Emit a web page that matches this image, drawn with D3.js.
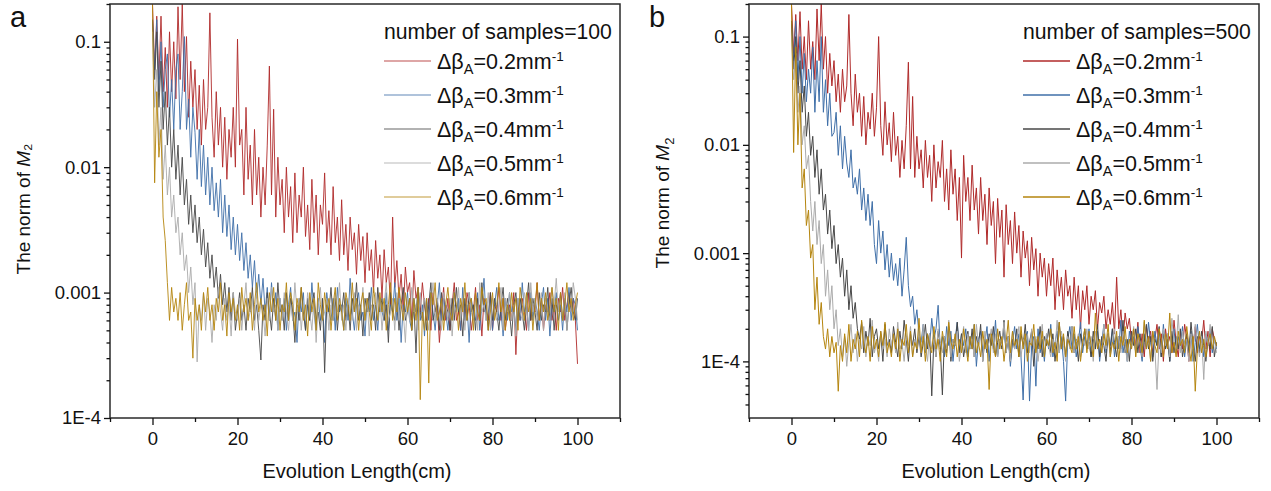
<!DOCTYPE html>
<html>
<head>
<meta charset="utf-8">
<script src="https://cdn.jsdelivr.net/npm/d3@7"></script>
<style>
  body { margin: 0; background: #fff; }
  text { font-family: Arial, "Liberation Sans", sans-serif; fill: #111; }
</style>
</head>
<body>
<svg id="chart" width="1271" height="491"></svg>
<script>
// sampling grid along the fiber, cm (every 0.5 cm from 0 to 100)
const lengthCm = d3.range(0, 100.25, 0.5)

const betaLabels = ["0.2", "0.3", "0.4", "0.5", "0.6"]
const lineColors = ["#b02a2a", "#3f6fa8", "#474747", "#ababab", "#b5850e"]
const xMajorTicks = [0, 20, 40, 60, 80, 100]
const xMinorTicks = [-10, 10, 30, 50, 70, 90, 110]
const yMajorTicks = [1e-4, 1e-3, 1e-2, 1e-1]
const yTickLabels = ["1E-4", "0.001", "0.01", "0.1"]

// ---- number of samples = 100 ----
const red100 = [
  0.2,0.06,0.16,0.05,0.16,0.04,0.09,0.03,0.12,0.04,
  0.1,0.035,0.19,0.05,0.2,0.04,0.11,0.025,0.07,0.03,
  0.06,0.02,0.045,0.015,0.05,0.02,0.03,0.17,0.025,0.012,
  0.04,0.015,0.03,0.01,0.025,0.008,0.02,0.012,0.03,0.01,
  0.105,0.015,0.02,0.006,0.03,0.008,0.015,0.005,0.02,0.006,
  0.012,0.004,0.01,0.005,0.015,0.064,0.006,0.029,0.004,0.012,
  0.005,0.008,0.003,0.01,0.004,0.007,0.0025,0.009,0.003,0.006,
  0.004,0.01,0.0028,0.005,0.0022,0.008,0.003,0.006,0.002,0.005,
  0.0035,0.009,0.0025,0.0045,0.002,0.007,0.0025,0.004,0.0018,0.0055,
  0.002,0.0035,0.0015,0.004,0.0022,0.003,0.0014,0.0035,0.0018,0.0028,
  0.0012,0.003,0.0015,0.0022,0.001,0.0026,0.0013,0.002,0.0009,0.0022,
  0.0012,0.0016,0.0008,0.004,0.0011,0.0018,0.0009,0.0014,0.0007,0.0016,
  0.001,0.0012,0.0006,0.0015,0.0009,0.0011,0.0007,0.0012,0.0008,
  6e-4,9e-4,5e-4,10e-4,7e-4,8e-4,4e-4,7e-4,11e-4,6e-4,
  9e-4,5e-4,8e-4,12e-4,6e-4,7e-4,5e-4,9e-4,6e-4,10e-4,
  8e-4,5e-4,7e-4,11e-4,6e-4,8e-4,4.5e-4,9e-4,7e-4,6e-4,
  10e-4,5e-4,8e-4,7e-4,11e-4,6e-4,9e-4,5e-4,7e-4,8e-4,
  6e-4,10e-4,3.2e-4,8e-4,6e-4,9e-4,7e-4,5e-4,10e-4,6e-4,
  8e-4,7e-4,12e-4,6e-4,9e-4,5e-4,8e-4,7e-4,10e-4,6e-4,
  8e-4,5e-4,9e-4,7e-4,11e-4,6e-4,8e-4,10e-4,7e-4,9e-4,
  6e-4,2.7e-4
]
const blue100 = [
  0.15,0.06,0.15,0.04,0.1,0.03,0.06,0.08,0.025,0.05,
  0.02,0.06,0.08,0.02,0.04,0.11,0.02,0.035,0.012,0.03,
  0.019,0.008,0.02,0.007,0.015,0.006,0.012,0.005,0.01,0.0045,
  0.0075,0.004,0.008,0.003,0.006,0.0028,0.005,0.0022,0.004,0.002,
  0.0035,0.0018,0.003,0.0015,0.0025,0.0013,0.002,0.0011,0.0018,0.0009,
  0.0014,0.0008,0.0013,0.0007,0.0011,0.0006,0.0012,0.0007,0.001,0.0005,
  0.0009,
  6e-4,9e-4,5e-4,8e-4,11e-4,6e-4,7e-4,4e-4,9e-4,7e-4,
  10e-4,5e-4,8e-4,6e-4,12e-4,7e-4,5e-4,9e-4,6e-4,8e-4,
  4e-4,10e-4,7e-4,6e-4,9e-4,5e-4,11e-4,7e-4,8e-4,5e-4,
  9e-4,6e-4,13e-4,7e-4,5e-4,8e-4,10e-4,6e-4,7e-4,4.5e-4,
  9e-4,7e-4,11e-4,6e-4,8e-4,5e-4,9e-4,7e-4,6e-4,10e-4,
  5e-4,8e-4,7e-4,12e-4,6e-4,9e-4,4e-4,8e-4,7e-4,10e-4,
  6e-4,5e-4,9e-4,7e-4,11e-4,6e-4,8e-4,4.5e-4,9e-4,6e-4,
  10e-4,7e-4,5e-4,8e-4,12e-4,6e-4,9e-4,7e-4,5e-4,8e-4,
  6e-4,10e-4,7e-4,9e-4,5e-4,11e-4,6e-4,8e-4,4e-4,9e-4,
  7e-4,6e-4,10e-4,5e-4,8e-4,13e-4,6e-4,7e-4,9e-4,5e-4,
  8e-4,11e-4,6e-4,7e-4,4.5e-4,9e-4,6e-4,10e-4,7e-4,8e-4,
  5e-4,9e-4,6e-4,12e-4,7e-4,8e-4,5e-4,10e-4,6e-4,9e-4,
  7e-4,5e-4,8e-4,11e-4,6e-4,9e-4,4.5e-4,8e-4,7e-4,10e-4,
  6e-4,8e-4,5e-4,9e-4,7e-4,11e-4,6e-4,9e-4,8e-4,5e-4
]
const dark100 = [
  0.15,0.05,0.12,0.03,0.07,0.02,0.04,0.015,0.03,0.01,
  0.02,0.008,0.015,0.006,0.012,0.005,0.008,0.0035,0.006,0.003,
  0.005,0.0025,0.004,0.002,0.0032,0.0016,0.0025,0.0013,0.002,0.0011,
  0.0016,0.0009,0.0014,0.0008,0.0012,0.0007,0.0011,0.0006,0.001,0.0005,
  7e-4,10e-4,6e-4,8e-4,5e-4,9e-4,7e-4,11e-4,6e-4,8e-4,
  5e-4,2.9e-4,8e-4,6e-4,10e-4,7e-4,5e-4,9e-4,6e-4,12e-4,
  7e-4,8e-4,5e-4,10e-4,6e-4,9e-4,7e-4,4e-4,8e-4,6e-4,
  11e-4,7e-4,5e-4,9e-4,6e-4,8e-4,10e-4,6e-4,7e-4,5e-4,
  9e-4,2.3e-4,8e-4,7e-4,11e-4,6e-4,9e-4,5e-4,8e-4,7e-4,
  10e-4,6e-4,8e-4,5e-4,9e-4,7e-4,12e-4,6e-4,8e-4,4.5e-4,
  9e-4,7e-4,10e-4,6e-4,8e-4,5e-4,11e-4,7e-4,9e-4,6e-4,
  8e-4,4e-4,10e-4,7e-4,6e-4,9e-4,5e-4,8e-4,11e-4,6e-4,
  7e-4,9e-4,5e-4,8e-4,3.3e-4,10e-4,7e-4,6e-4,9e-4,5e-4,
  8e-4,12e-4,6e-4,7e-4,9e-4,5e-4,10e-4,6e-4,8e-4,7e-4,
  5e-4,9e-4,6e-4,11e-4,7e-4,8e-4,4.5e-4,9e-4,6e-4,10e-4,
  7e-4,8e-4,5e-4,9e-4,6e-4,12e-4,7e-4,8e-4,5e-4,10e-4,
  6e-4,9e-4,7e-4,5e-4,8e-4,11e-4,6e-4,9e-4,7e-4,4.5e-4,
  8e-4,10e-4,6e-4,9e-4,7e-4,5e-4,8e-4,12e-4,6e-4,9e-4,
  7e-4,5e-4,10e-4,6e-4,8e-4,7e-4,11e-4,6e-4,9e-4,5e-4,
  8e-4,7e-4,10e-4,6e-4,9e-4,5e-4,8e-4,11e-4,7e-4,6e-4,
  9e-4
]
const light100 = [
  0.12,0.03,0.06,0.015,0.03,0.008,0.015,0.006,0.01,0.004,
  0.006,0.003,0.004,0.002,0.003,0.0015,0.002,0.001,0.0016,0.0008,
  0.0012,0.00028,
  8e-4,6e-4,10e-4,5e-4,9e-4,7e-4,4e-4,8e-4,6e-4,11e-4,
  7e-4,5e-4,9e-4,6e-4,8e-4,4.5e-4,10e-4,7e-4,6e-4,9e-4,
  5e-4,8e-4,12e-4,6e-4,7e-4,9e-4,5e-4,10e-4,6e-4,8e-4,
  7e-4,4.5e-4,9e-4,6e-4,11e-4,7e-4,8e-4,5e-4,9e-4,6e-4,
  10e-4,7e-4,5e-4,8e-4,6e-4,12e-4,7e-4,9e-4,5e-4,8e-4,
  6e-4,10e-4,7e-4,5e-4,9e-4,4e-4,8e-4,11e-4,6e-4,7e-4,
  9e-4,5e-4,8e-4,6e-4,10e-4,7e-4,12e-4,6e-4,8e-4,5e-4,
  9e-4,7e-4,6e-4,10e-4,5e-4,8e-4,7e-4,11e-4,6e-4,9e-4,
  4.5e-4,8e-4,7e-4,10e-4,6e-4,9e-4,5e-4,8e-4,12e-4,6e-4,
  7e-4,9e-4,5e-4,10e-4,6e-4,8e-4,7e-4,4e-4,9e-4,6e-4,
  11e-4,7e-4,8e-4,5e-4,10e-4,6e-4,9e-4,7e-4,5e-4,8e-4,
  12e-4,6e-4,9e-4,7e-4,5e-4,10e-4,8e-4,6e-4,9e-4,4.5e-4,
  8e-4,7e-4,11e-4,6e-4,9e-4,5e-4,8e-4,10e-4,7e-4,6e-4,
  9e-4,5e-4,12e-4,7e-4,8e-4,6e-4,10e-4,5e-4,9e-4,7e-4,
  6e-4,8e-4,11e-4,5e-4,9e-4,7e-4,10e-4,6e-4,8e-4,4.5e-4,
  9e-4,7e-4,6e-4,10e-4,8e-4,5e-4,12e-4,7e-4,9e-4,6e-4,
  8e-4,10e-4,5e-4,9e-4,7e-4,6e-4,11e-4,8e-4,13e-4,7e-4,
  9e-4,6e-4,10e-4,5e-4,8e-4,7e-4,12e-4,9e-4,6e-4
]
const gold100 = [
  0.2,0.0075,0.04,0.012,0.02,0.004,0.0026,0.0012,0.0006,
  11e-4,7e-4,9e-4,6e-4,10e-4,5e-4,8e-4,12e-4,6e-4,7e-4,
  3e-4,9e-4,6e-4,8e-4,5e-4,10e-4,7e-4,11e-4,6e-4,8e-4,
  5e-4,9e-4,7e-4,12e-4,6e-4,8e-4,4.5e-4,10e-4,7e-4,9e-4,
  6e-4,8e-4,5e-4,11e-4,7e-4,9e-4,6e-4,10e-4,5e-4,8e-4,
  12e-4,7e-4,9e-4,6e-4,8e-4,4.5e-4,10e-4,7e-4,11e-4,6e-4,
  9e-4,5e-4,8e-4,7e-4,12e-4,6e-4,10e-4,8e-4,5e-4,9e-4,
  7e-4,11e-4,6e-4,8e-4,4.5e-4,10e-4,7e-4,9e-4,5e-4,12e-4,
  8e-4,6e-4,10e-4,7e-4,9e-4,5e-4,8e-4,11e-4,6e-4,9e-4,
  7e-4,5e-4,10e-4,8e-4,6e-4,12e-4,7e-4,9e-4,5e-4,8e-4,
  10e-4,6e-4,9e-4,7e-4,5e-4,11e-4,8e-4,6e-4,10e-4,7e-4,
  9e-4,5e-4,8e-4,12e-4,6e-4,9e-4,7e-4,11e-4,8e-4,6e-4,
  10e-4,7e-4,9e-4,5e-4,9e-4,6e-4,11e-4,1.4e-4,7e-4,5e-4,
  9e-4,1.9e-4,10e-4,8e-4,12e-4,6e-4,7e-4,9e-4,5e-4,8e-4,
  11e-4,7e-4,6e-4,10e-4,8e-4,5e-4,9e-4,7e-4,12e-4,6e-4,
  8e-4,9e-4,5e-4,10e-4,7e-4,6e-4,11e-4,8e-4,9e-4,5e-4,
  7e-4,10e-4,6e-4,8e-4,12e-4,7e-4,9e-4,5e-4,8e-4,6e-4,
  10e-4,7e-4,9e-4,5e-4,11e-4,8e-4,6e-4,10e-4,7e-4,9e-4,
  5e-4,8e-4,12e-4,6e-4,9e-4,7e-4,10e-4,6e-4,8e-4,11e-4,
  7e-4,9e-4,5e-4,10e-4,6e-4,8e-4,12e-4,7e-4,9e-4,6e-4,
  8e-4,10e-4
]

// ---- number of samples = 500 ----
const red500 = [
  0.2,0.07,0.16,0.06,0.17,0.05,0.1,0.04,0.14,0.05,
  0.09,0.04,0.18,0.06,0.2,0.05,0.1,0.03,0.07,0.035,
  0.06,0.025,0.045,0.02,0.05,0.025,0.035,0.16,0.03,0.015,
  0.045,0.02,0.03,0.012,0.028,0.01,0.02,0.014,0.03,0.012,
  0.022,0.1,0.015,0.008,0.025,0.01,0.016,0.007,0.02,0.008,
  0.012,0.005,0.011,0.006,0.015,0.058,0.006,0.028,0.005,0.012,
  0.006,0.009,0.004,0.011,0.005,0.008,0.003,0.01,0.004,0.007,
  0.005,0.011,0.003,0.006,0.0025,0.009,0.0035,0.006,0.002,0.005,
  0.0009,0.008,0.003,0.005,0.002,0.0065,0.0025,0.004,0.0015,0.005,
  0.002,0.0035,0.0012,0.004,0.0018,0.003,0.0008,0.0032,0.0014,0.0025,
  0.0006,0.0028,0.0012,0.002,0.0008,0.0024,0.001,0.0018,0.0006,0.0016,
  0.0009,0.0013,0.0005,0.0014,0.0007,0.0011,0.0004,0.001,0.0006,0.0009,
  0.0004,0.0008,0.0005,0.0009,0.0003,0.0007,0.0004,0.0006,0.0003,0.0007,
  0.0004,0.0005,0.00025,0.0006,0.0003,0.0005,0.0002,0.00045,0.0003,0.0005,
  0.00022,0.0004,0.0003,0.00045,0.0002,0.00035,0.00028,0.0004,0.0002,0.0003,
  0.00022,0.00035,0.00018,0.0006,0.0002,0.0003,0.00016,0.00028,0.0002,0.00025,
  0.00015,
  2e-4,1.4e-4,2.3e-4,1.2e-4,1.8e-4,1.1e-4,2.1e-4,1.5e-4,1.9e-4,1.2e-4,
  1.6e-4,2.2e-4,1.3e-4,1.8e-4,1.0e-4,2.0e-4,1.4e-4,1.7e-4,1.2e-4,2.4e-4,
  1.5e-4,1.1e-4,1.9e-4,1.3e-4,2.2e-4,1.6e-4,1.0e-4,1.8e-4,1.4e-4,2.1e-4,
  1.2e-4,1.7e-4,1.5e-4,2.4e-4,1.3e-4,1.9e-4,1.1e-4,2.0e-4,1.6e-4,1.4e-4
]
const blue500 = [
  0.13,0.06,0.14,0.04,0.1,0.03,0.07,0.025,0.05,0.03,
  0.08,0.02,0.06,0.025,0.1,0.02,0.04,0.015,0.03,0.012,
  0.013,0.02,0.008,0.015,0.006,0.012,0.0068,0.005,0.009,0.004,
  0.005,0.0035,0.006,0.0025,0.004,0.002,0.0035,0.0018,0.003,0.0012,
  0.0008,0.002,0.001,0.0016,0.0007,0.0012,0.0006,0.001,0.00056,0.0008,
  0.0005,0.0009,0.0004,0.0007,0.0014,0.0005,0.00032,0.0004,0.00022,0.0003,
  0.00018,
  1.5e-4,2.2e-4,1.2e-4,1.8e-4,1.4e-4,2.5e-4,1.6e-4,2.0e-4,3.3e-4,1.3e-4,
  1.7e-4,1.1e-4,2.1e-4,1.4e-4,1.9e-4,1.0e-4,1.6e-4,2.3e-4,1.2e-4,1.8e-4,
  1.4e-4,2.0e-4,1.1e-4,1.7e-4,1.3e-4,2.2e-4,0.9e-4,1.6e-4,1.9e-4,1.2e-4,
  1.5e-4,2.1e-4,1.0e-4,1.8e-4,1.3e-4,2.4e-4,1.1e-4,1.6e-4,1.4e-4,2.0e-4,
  1.2e-4,1.7e-4,0.9e-4,1.5e-4,2.1e-4,1.3e-4,1.8e-4,1.1e-4,0.44e-4,1.6e-4,
  1.9e-4,0.43e-4,1.4e-4,1.7e-4,0.59e-4,2.0e-4,1.2e-4,1.6e-4,1.0e-4,1.8e-4,
  1.3e-4,2.2e-4,1.1e-4,1.5e-4,1.9e-4,1.2e-4,1.7e-4,1.0e-4,0.43e-4,1.6e-4,
  2.1e-4,1.3e-4,1.8e-4,1.1e-4,1.5e-4,2.3e-4,1.2e-4,1.7e-4,1.4e-4,2.0e-4,
  1.1e-4,1.6e-4,1.3e-4,1.9e-4,1.0e-4,1.5e-4,2.2e-4,1.2e-4,1.8e-4,1.4e-4,
  2.0e-4,1.1e-4,1.7e-4,1.3e-4,2.4e-4,1.2e-4,1.6e-4,1.0e-4,1.9e-4,1.4e-4,
  1.7e-4,1.2e-4,2.1e-4,1.4e-4,1.0e-4,1.8e-4,1.3e-4,2.3e-4,1.5e-4,1.1e-4,
  1.9e-4,1.4e-4,1.6e-4,1.1e-4,2.2e-4,1.3e-4,1.8e-4,1.0e-4,1.5e-4,2.0e-4,
  1.2e-4,1.7e-4,1.4e-4,2.1e-4,1.1e-4,1.6e-4,1.3e-4,1.9e-4,1.0e-4,1.5e-4,
  2.2e-4,1.3e-4,1.7e-4,1.1e-4,1.8e-4,1.4e-4,2.0e-4,1.2e-4,1.6e-4,1.3e-4
]
const dark500 = [
  0.14,0.05,0.1,0.03,0.06,0.02,0.035,0.012,0.02,0.008,
  0.012,0.005,0.009,0.0035,0.006,0.0025,0.0035,0.0015,0.0025,0.0011,
  0.0018,0.0008,0.0012,0.0006,0.0009,0.0004,0.0007,0.0003,0.0005,0.00025,
  0.00035,0.0002,
  1.6e-4,2.3e-4,1.2e-4,1.9e-4,1.4e-4,2.5e-4,1.1e-4,1.7e-4,2.0e-4,1.3e-4,
  1.8e-4,1.0e-4,2.2e-4,1.4e-4,1.6e-4,1.2e-4,2.1e-4,1.5e-4,1.1e-4,1.9e-4,
  1.3e-4,2.4e-4,1.6e-4,1.0e-4,1.8e-4,1.4e-4,2.0e-4,1.2e-4,1.7e-4,1.1e-4,
  1.5e-4,2.2e-4,1.3e-4,1.8e-4,0.48e-4,1.6e-4,1.1e-4,1.9e-4,1.4e-4,0.49e-4,
  1.7e-4,1.2e-4,2.1e-4,1.0e-4,1.6e-4,1.4e-4,2.3e-4,1.2e-4,1.8e-4,1.1e-4,
  1.5e-4,1.9e-4,1.3e-4,2.0e-4,1.1e-4,1.7e-4,1.4e-4,2.2e-4,1.0e-4,1.6e-4,
  1.2e-4,1.8e-4,1.4e-4,2.1e-4,1.1e-4,1.5e-4,1.9e-4,1.3e-4,2.4e-4,1.2e-4,
  1.7e-4,1.0e-4,1.6e-4,1.3e-4,2.0e-4,1.1e-4,1.8e-4,1.4e-4,2.2e-4,1.2e-4,
  1.5e-4,1.9e-4,0.9e-4,1.6e-4,1.3e-4,2.1e-4,1.1e-4,1.7e-4,1.4e-4,2.0e-4,
  1.2e-4,1.8e-4,1.0e-4,1.5e-4,2.3e-4,1.3e-4,1.7e-4,1.1e-4,1.9e-4,1.4e-4,
  2.1e-4,1.2e-4,1.6e-4,1.0e-4,1.8e-4,1.4e-4,2.0e-4,1.3e-4,1.5e-4,1.1e-4,
  1.9e-4,1.3e-4,2.2e-4,1.1e-4,1.7e-4,1.4e-4,1.0e-4,1.8e-4,1.2e-4,2.0e-4,
  1.5e-4,1.1e-4,1.7e-4,1.3e-4,2.4e-4,1.2e-4,1.6e-4,1.0e-4,1.9e-4,1.4e-4,
  2.0e-4,1.2e-4,1.8e-4,1.1e-4,1.5e-4,2.2e-4,1.3e-4,1.7e-4,1.0e-4,1.6e-4,
  1.4e-4,2.1e-4,1.1e-4,1.8e-4,1.3e-4,1.6e-4,1.0e-4,1.9e-4,1.2e-4,1.7e-4,
  1.3e-4,2.0e-4,1.1e-4,1.5e-4,1.8e-4,1.2e-4,2.3e-4,1.4e-4,1.0e-4,1.7e-4,
  1.2e-4,1.9e-4,1.4e-4,1.0e-4,1.6e-4,1.3e-4,2.1e-4,1.1e-4,1.5e-4
]
const light500 = [
  0.1,0.04,0.07,0.02,0.035,0.01,0.015,0.006,0.008,0.003,
  0.0016,0.003,0.0012,0.002,0.0008,0.0012,0.0004,0.0007,0.0003,0.0005,
  0.0002,0.0003,
  1.4e-4,2.0e-4,1.1e-4,1.7e-4,0.9e-4,1.5e-4,2.2e-4,1.2e-4,1.8e-4,1.0e-4,
  1.6e-4,1.3e-4,2.1e-4,1.1e-4,1.7e-4,1.4e-4,2.4e-4,1.2e-4,1.5e-4,1.0e-4,
  1.9e-4,1.3e-4,1.6e-4,1.1e-4,2.0e-4,1.4e-4,1.8e-4,1.2e-4,2.3e-4,1.3e-4,
  1.5e-4,1.0e-4,1.7e-4,1.4e-4,2.1e-4,1.1e-4,1.6e-4,1.3e-4,1.9e-4,1.2e-4,
  2.2e-4,1.4e-4,1.0e-4,1.8e-4,1.3e-4,1.6e-4,1.1e-4,2.0e-4,1.5e-4,1.2e-4,
  1.7e-4,1.3e-4,2.4e-4,1.1e-4,1.6e-4,1.4e-4,1.9e-4,1.0e-4,1.5e-4,2.1e-4,
  1.2e-4,1.8e-4,1.3e-4,1.6e-4,1.1e-4,2.2e-4,1.4e-4,1.7e-4,1.0e-4,1.9e-4,
  1.3e-4,1.5e-4,2.0e-4,1.2e-4,1.8e-4,1.1e-4,1.6e-4,1.4e-4,2.3e-4,1.2e-4,
  1.7e-4,1.0e-4,1.9e-4,1.3e-4,1.5e-4,2.1e-4,1.1e-4,1.6e-4,1.4e-4,1.8e-4,
  1.2e-4,2.0e-4,1.3e-4,1.7e-4,1.0e-4,1.5e-4,2.2e-4,1.2e-4,1.8e-4,1.4e-4,
  1.1e-4,1.6e-4,1.3e-4,2.4e-4,1.2e-4,1.9e-4,1.4e-4,1.0e-4,1.7e-4,1.3e-4,
  2.1e-4,1.2e-4,1.5e-4,1.8e-4,1.1e-4,1.6e-4,1.4e-4,2.0e-4,1.3e-4,1.7e-4,
  1.0e-4,1.9e-4,1.4e-4,1.6e-4,1.2e-4,2.2e-4,1.3e-4,1.8e-4,1.1e-4,1.5e-4,
  2.0e-4,1.3e-4,1.7e-4,1.2e-4,1.9e-4,1.4e-4,1.0e-4,1.6e-4,1.3e-4,2.1e-4,
  1.2e-4,1.8e-4,1.5e-4,1.1e-4,2.3e-4,1.4e-4,1.7e-4,1.0e-4,1.9e-4,1.3e-4,
  0.55e-4,1.6e-4,1.2e-4,2.0e-4,1.4e-4,1.8e-4,1.1e-4,2.5e-4,1.5e-4,1.3e-4,
  2.7e-4,1.2e-4,1.9e-4,1.4e-4,1.6e-4,1.0e-4,1.8e-4,1.3e-4,2.2e-4,1.5e-4,
  1.1e-4,1.7e-4,0.68e-4,1.9e-4,1.4e-4,2.2e-4,1.3e-4,1.6e-4,1.2e-4
]
const gold500 = [
  0.2,0.0085,0.08,0.01,0.03,0.004,0.006,0.0018,0.0025,0.0009,
  0.0012,0.0003,0.0006,0.00022,0.00035,0.00017,
  1.3e-4,2.0e-4,1.1e-4,1.7e-4,1.2e-4,1.5e-4,0.53e-4,1.4e-4,1.0e-4,1.8e-4,
  1.2e-4,2.2e-4,1.0e-4,1.6e-4,1.3e-4,1.9e-4,1.1e-4,2.4e-4,1.4e-4,1.2e-4,
  1.7e-4,1.0e-4,2.1e-4,1.3e-4,1.6e-4,1.1e-4,1.9e-4,1.4e-4,2.3e-4,1.2e-4,
  1.5e-4,1.1e-4,1.8e-4,1.3e-4,2.0e-4,1.0e-4,1.6e-4,1.4e-4,2.2e-4,1.2e-4,
  1.9e-4,1.1e-4,1.5e-4,1.3e-4,2.5e-4,1.2e-4,1.7e-4,1.0e-4,1.8e-4,1.4e-4,
  1.2e-4,2.1e-4,1.3e-4,1.6e-4,1.0e-4,1.9e-4,1.4e-4,1.1e-4,2.3e-4,1.5e-4,
  1.3e-4,1.8e-4,1.1e-4,1.6e-4,1.2e-4,2.0e-4,1.4e-4,1.0e-4,1.7e-4,1.3e-4,
  2.2e-4,1.2e-4,1.5e-4,1.1e-4,1.9e-4,1.3e-4,1.6e-4,0.55e-4,1.8e-4,1.4e-4,
  1.1e-4,2.0e-4,1.3e-4,1.7e-4,1.0e-4,1.5e-4,2.4e-4,1.2e-4,1.9e-4,1.4e-4,
  1.6e-4,1.1e-4,2.1e-4,1.3e-4,1.8e-4,1.0e-4,1.5e-4,1.4e-4,2.2e-4,1.2e-4,
  1.7e-4,1.3e-4,1.9e-4,1.1e-4,1.6e-4,1.4e-4,2.0e-4,1.2e-4,1.5e-4,1.0e-4,
  2.3e-4,1.3e-4,1.8e-4,1.1e-4,1.6e-4,1.4e-4,1.2e-4,2.1e-4,1.3e-4,1.7e-4,
  1.0e-4,1.5e-4,2.0e-4,1.2e-4,1.9e-4,1.4e-4,1.1e-4,2.8e-4,1.3e-4,1.6e-4,
  1.2e-4,1.8e-4,1.4e-4,2.2e-4,1.1e-4,1.5e-4,1.3e-4,1.9e-4,1.0e-4,1.7e-4,
  1.4e-4,2.1e-4,1.2e-4,1.6e-4,1.3e-4,2.0e-4,1.1e-4,1.8e-4,1.5e-4,1.2e-4,
  2.4e-4,1.3e-4,1.7e-4,1.0e-4,1.9e-4,1.4e-4,1.2e-4,2.0e-4,1.6e-4,1.1e-4,
  1.8e-4,1.3e-4,2.8e-4,1.2e-4,1.5e-4,1.1e-4,1.9e-4,1.4e-4,1.6e-4,1.2e-4,
  2.1e-4,1.4e-4,1.0e-4,1.7e-4,0.53e-4,1.3e-4,1.9e-4,1.2e-4,1.6e-4,1.1e-4,
  1.5e-4,1.8e-4,1.3e-4,1.7e-4,1.4e-4
]

const svg = d3.select("#chart")

const panels = [
  {letter: "a", left: 110, right: 620, yMin: 1e-4, samples: 100,
   series: [red100, blue100, dark100, light100, gold100],
   lineOpacity: 0.9, legendOpacity: 0.55, legendX: 384, subscriptGlyph: true},
  {letter: "b", left: 749, right: 1259, yMin: 3e-5, samples: 500,
   series: [red500, blue500, dark500, light500, gold500],
   lineOpacity: 1, legendOpacity: 1, legendX: 1023, subscriptGlyph: false}
]
const plotTop = 4, plotBottom = 418

panels.forEach(p => p.series.forEach((s, i) => {
  if (s.length != lengthCm.length) console.log("length mismatch", p.letter, i, s.length)
}))

const drawPanel = (p) => {
  const g = svg.append("g")
  const x = d3.scaleLinear().domain([-10, 110]).range([p.left, p.right])
  const y = d3.scaleLog().domain([p.yMin, 0.2]).range([plotBottom, plotTop])

  const clipId = "clip-" + p.letter
  g.append("clipPath").attr("id", clipId)
    .append("rect")
    .attr("x", p.left).attr("y", plotTop)
    .attr("width", p.right - p.left).attr("height", plotBottom - plotTop)

  const line = d3.line()
    .x((d, i) => x(lengthCm[i]))
    .y(d => y(d))

  g.append("g").attr("clip-path", `url(#${clipId})`)
    .selectAll("path.series")
    .data(p.series)
    .join("path")
    .attr("class", "series")
    .attr("d", line)
    .attr("fill", "none")
    .attr("stroke", (d, i) => lineColors[i])
    .attr("stroke-width", 1)
    .attr("stroke-linejoin", "round")
    .attr("opacity", p.lineOpacity)

  // frame
  g.append("rect")
    .attr("x", p.left).attr("y", plotTop)
    .attr("width", p.right - p.left).attr("height", plotBottom - plotTop)
    .attr("fill", "none").attr("stroke", "#2a2a2a").attr("stroke-width", 1.5)

  // x axis
  const xAxis = g.append("g").attr("transform", `translate(0,${plotBottom})`)
    .call(d3.axisBottom(x).tickValues(xMajorTicks).tickSize(7).tickPadding(7))
  xAxis.append("g")
    .call(d3.axisBottom(x).tickValues(xMinorTicks).tickSize(4).tickFormat(""))
  // y axis
  const minorY = []
  for (let e = -5; e <= -1; e++) {
    for (let k = 2; k <= 9; k++) {
      const v = k * Math.pow(10, e)
      if (v > p.yMin * 1.0001 && v < 0.2 * 1.0001) minorY.push(v)
    }
  }
  const yAxis = g.append("g").attr("transform", `translate(${p.left},0)`)
    .call(d3.axisLeft(y).tickValues(yMajorTicks).tickSize(6).tickPadding(3)
      .tickFormat((d, i) => yTickLabels[i]))
  yAxis.append("g")
    .call(d3.axisLeft(y).tickValues(minorY).tickSize(3.5).tickFormat(""))

  g.selectAll(".domain").remove()
  g.selectAll(".tick line").attr("stroke", "#111").attr("stroke-width", 1.3)
  g.selectAll(".tick text").attr("font-size", 18.5).attr("fill", "#111")
    .attr("font-family", "Arial, 'Liberation Sans', sans-serif")

  // axis titles
  g.append("text")
    .attr("x", (p.left + p.right) / 2 - 8).attr("y", 478)
    .attr("text-anchor", "middle").attr("font-size", 20)
    .text("Evolution Length(cm)")

  const yTitle = g.append("text")
    .attr("transform", `translate(${p.left - 80},${p.letter == "a" ? 209 : 203}) rotate(-90)`)
    .attr("text-anchor", "middle").attr("font-size", 19)
  yTitle.append("tspan").text("The norm of ")
  yTitle.append("tspan").text("M").style("font-style", "italic")
  if (p.subscriptGlyph) {
    yTitle.append("tspan").text("\u2082")
  } else {
    yTitle.append("tspan").text("2").attr("font-size", 13).attr("dy", 5)
  }

  // panel letter
  g.append("text")
    .attr("x", p.left - 100).attr("y", 27)
    .attr("font-size", 29)
    .text(p.letter)

  // legend
  const lg = g.append("g")
  lg.append("text")
    .attr("x", p.legendX).attr("y", 38.5)
    .attr("font-size", 21.2)
    .text(`number of samples=${p.samples}`)
  const rows = lg.selectAll("g.row")
    .data(betaLabels)
    .join("g")
    .attr("class", "row")
    .attr("transform", (d, i) => `translate(${p.legendX},${61 + i * 34})`)
  rows.append("line")
    .attr("x1", 0).attr("x2", 47)
    .attr("stroke", (d, i) => lineColors[i])
    .attr("stroke-width", 1.6)
    .attr("opacity", p.legendOpacity)
  const label = rows.append("text")
    .attr("x", 53).attr("y", 8)
    .attr("font-size", 21.5)
  label.append("tspan").text("\u0394\u03b2")
  label.append("tspan").text("A").attr("font-size", 14.5).attr("dy", 5)
  label.append("tspan").text(d => `=${d}mm`).attr("dy", -5)
  label.append("tspan").text("-1").attr("font-size", 13.5).attr("dy", -8)
}

panels.forEach(drawPanel)
</script>
</body>
</html>
